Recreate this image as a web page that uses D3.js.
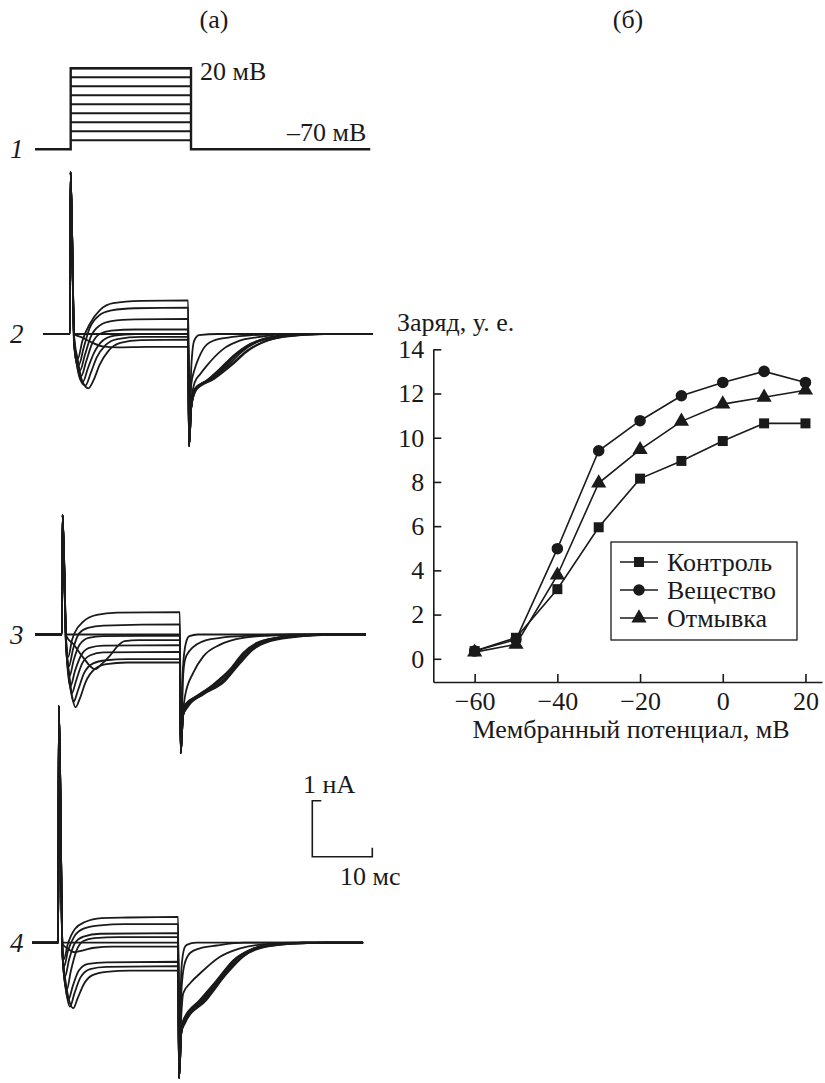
<!DOCTYPE html>
<html><head><meta charset="utf-8">
<script src="https://cdn.jsdelivr.net/npm/d3@7"></script>
<style>
body{margin:0;background:#fff}
svg{display:block}
svg text{font-family:'Liberation Serif','Tinos','DejaVu Serif','Noto Serif','Nimbus Roman','FreeSerif','Times',serif;fill:#1a1a1a}
</style>
</head><body>
<svg id="c" width="825" height="1083"></svg>
<script>
// ---------- DATA ----------
const voltages = [-60,-50,-40,-30,-20,-10,0,10,20];           // mV (steps)
const holdingV = -70;
const chargeControl = [0.35,0.95,3.15,5.95,8.15,8.95,9.85,10.65,10.65];
const chargeDrug    = [0.35,0.87,4.98,9.41,10.77,11.9,12.5,13.0,12.5];
const chargeWash    = [0.30,0.65,3.78,7.95,9.46,10.74,11.52,11.83,12.15];
const seriesNames   = ["Контроль","Вещество","Отмывка"];
const xTicks = [-60,-40,-20,0,20];
const yTicks = [0,2,4,6,8,10,12,14];

// pulse timing (ms)
const pulseOn = 5, pulseOff = 25;
const protocolSpan = [-0.93, 54.8];

// current traces (t ms, I nA) — onset capacitive spike peak, offset spike minimum
const spikePeaks = [2.89, 2.13, 4.23];
const tailMins   = [-2.0, -2.12, -2.42];
const traceStart = [0.44, 0.42, 0.62];
const traceEnd   = [56.2, 56.5, 55.8];

const p2On = [
 [[5.7,0],[24.98,0]],
 [[5.7,0],[7,-0.06],[8.5,-0.14],[10.5,-0.22],[13,-0.24],[18,-0.23],[24.98,-0.23]],
 [[5.7,-0.05],[6.3,-0.45],[7.0,-0.82],[8.1,-0.97],[9.0,-0.82],[10.0,-0.55],[11.5,-0.3],[13.5,-0.16],[17,-0.11],[24.98,-0.1]],
 [[5.7,-0.08],[6.2,-0.5],[6.9,-0.85],[7.6,-0.92],[8.5,-0.7],[9.5,-0.42],[11,-0.2],[13,-0.09],[17,-0.05],[24.98,-0.05]],
 [[5.7,-0.1],[6.1,-0.5],[6.7,-0.8],[7.2,-0.85],[8.0,-0.62],[9.0,-0.35],[10.5,-0.12],[12.5,-0.03],[16,0],[24.98,0]],
 [[5.7,-0.12],[6.1,-0.52],[6.9,-0.75],[7.7,-0.5],[8.7,-0.18],[10,0.0],[12,0.06],[16,0.08],[24.98,0.08]],
 [[5.7,-0.15],[6.1,-0.5],[6.7,-0.65],[7.5,-0.38],[8.5,-0.05],[10,0.15],[12,0.23],[16,0.26],[24.98,0.27]],
 [[5.7,-0.18],[6.0,-0.45],[6.5,-0.55],[7.3,-0.25],[8.3,0.1],[9.8,0.32],[12,0.42],[16,0.46],[24.98,0.47]],
 [[5.7,-0.2],[6.3,-0.45],[7.1,-0.12],[8.4,0.19],[10.1,0.43],[12.3,0.55],[17,0.59],[24.98,0.6]]
];
const p2Off = [
 [[25.5,-0.6],[26.0,-0.12],[26.8,-0.02],[30,0]],
 [[25.5,-0.9],[26.1,-0.62],[26.8,-0.42],[27.5,-0.27],[29.2,-0.12],[32,-0.06],[34.9,-0.03],[40,0]],
 [[25.5,-1.2],[26.1,-0.86],[27,-0.72],[28.1,-0.57],[30.9,-0.27],[33.7,-0.12],[36.5,-0.06],[42,0]],
 [[25.5,-1.3],[26.1,-0.98],[28.1,-0.83],[30.35,-0.62],[32.6,-0.39],[34.9,-0.21],[37.7,-0.09],[40.5,-0.03],[46,0]],
 [[25.5,-1.3],[26.1,-0.98],[28.3,-0.82],[30.6,-0.61],[32.9,-0.37],[35.2,-0.2],[38,-0.08],[40.8,-0.03],[46.5,0]],
 [[25.5,-1.3],[26.2,-0.98],[28.6,-0.81],[31,-0.6],[33.3,-0.35],[35.7,-0.18],[38.5,-0.08],[41.2,-0.03],[47,0]],
 [[25.5,-1.3],[26.3,-0.98],[28.9,-0.8],[31.5,-0.58],[33.9,-0.33],[36.5,-0.15],[39.5,-0.06],[42.5,-0.02],[48,0]],
 [[25.5,-1.3],[26.4,-0.98],[29.2,-0.8],[32,-0.57],[34.9,-0.3],[38.2,-0.12],[41.6,-0.04],[47.2,0]],
 [[25.5,-1.3],[26.4,-0.99],[29.4,-0.8],[32.3,-0.56],[35.2,-0.29],[38.6,-0.11],[42,-0.04],[48,0]]
];
const p3On = [
 [[5.7,0],[24.98,0]],
 [[5.7,-0.02],[7,-0.18],[8.5,-0.4],[10.6,-0.62],[11.8,-0.52],[13.1,-0.38],[14.5,-0.2],[15.6,-0.12],[18,-0.1],[24.98,-0.1]],
 [[5.7,-0.1],[6.2,-0.7],[6.8,-1.15],[7.3,-1.3],[8.0,-1.15],[9.0,-0.85],[10.5,-0.62],[12.5,-0.53],[16,-0.5],[24.98,-0.5]],
 [[5.7,-0.12],[6.2,-0.75],[6.95,-1.2],[7.7,-1.0],[8.7,-0.7],[10.2,-0.52],[12.5,-0.46],[16,-0.44],[24.98,-0.44]],
 [[5.7,-0.15],[6.1,-0.7],[6.65,-1.05],[7.4,-0.82],[8.4,-0.52],[9.8,-0.37],[12,-0.32],[24.98,-0.31]],
 [[5.7,-0.2],[6.4,-0.93],[7.2,-0.65],[8.2,-0.38],[9.6,-0.24],[12,-0.2],[24.98,-0.19]],
 [[5.7,-0.22],[6.25,-0.75],[7.0,-0.45],[8.0,-0.18],[9.5,-0.06],[12,-0.03],[24.98,-0.02]],
 [[5.7,-0.22],[6.15,-0.57],[6.9,-0.25],[7.9,0.02],[9.4,0.12],[12,0.16],[24.98,0.18]],
 [[5.7,-0.2],[6.05,-0.4],[6.7,-0.1],[7.2,0.04],[8.6,0.23],[10.9,0.35],[14.3,0.39],[24.98,0.40]]
];
const p3Off = [
 [[25.5,-0.6],[26.0,-0.15],[26.6,-0.03],[28,0]],
 [[25.5,-0.8],[25.85,-0.45],[26.7,-0.28],[27.8,-0.18],[29.5,-0.1],[31.8,-0.06],[37.4,-0.02],[44,0]],
 [[25.5,-1.4],[25.85,-1.1],[27.26,-0.68],[28.95,-0.39],[31.8,-0.18],[35.7,-0.06],[40.3,-0.02],[46,0]],
 [[25.5,-1.45],[25.85,-1.25],[27.8,-1.1],[30.65,-0.89],[33.5,-0.62],[35.7,-0.33],[38,-0.15],[41.4,-0.06],[45.9,-0.02],[50,0]],
 [[25.5,-1.45],[25.9,-1.25],[27.9,-1.1],[30.9,-0.88],[33.8,-0.6],[36,-0.32],[38.4,-0.14],[41.8,-0.05],[50,0]],
 [[25.5,-1.45],[26,-1.26],[28.2,-1.09],[31.3,-0.87],[34.2,-0.58],[36.4,-0.31],[38.8,-0.14],[42.2,-0.05],[50,0]],
 [[25.5,-1.45],[26.1,-1.27],[28.5,-1.08],[31.7,-0.87],[34.6,-0.56],[36.8,-0.3],[39.4,-0.13],[43,-0.04],[50,0]],
 [[25.5,-1.45],[26.3,-1.28],[28.8,-1.07],[32.1,-0.86],[34.9,-0.53],[37.1,-0.28],[39.9,-0.12],[45,-0.03],[51,0]],
 [[25.5,-1.45],[26.4,-1.28],[28.95,-1.07],[32.35,-0.86],[35.2,-0.51],[37.4,-0.27],[40.3,-0.12],[45.9,-0.03],[52,0]]
];
const p4On = [
 [[5.7,0],[24.98,0]],
 [[5.7,-0.02],[6.5,-0.1],[7.7,-0.17],[9,-0.14],[11,-0.09],[14,-0.07],[24.98,-0.07]],
 [[5.7,-0.15],[6.3,-0.75],[7.0,-1.1],[7.5,-1.17],[8.2,-1.0],[9.2,-0.75],[10.7,-0.58],[13,-0.52],[17,-0.5],[24.98,-0.5]],
 [[5.7,-0.18],[6.3,-0.85],[6.95,-1.14],[7.7,-0.9],[8.7,-0.62],[10.3,-0.47],[13,-0.43],[24.98,-0.42]],
 [[5.7,-0.2],[6.2,-0.8],[6.67,-1.02],[7.4,-0.78],[8.4,-0.5],[10,-0.38],[13,-0.35],[24.98,-0.34]],
 [[5.7,-0.22],[6.4,-0.85],[7.1,-0.5],[8.0,-0.15],[9.2,0.03],[11,0.08],[15,0.1],[24.98,0.1]],
 [[5.7,-0.22],[6.1,-0.61],[6.8,-0.3],[7.8,0.0],[9.2,0.11],[12,0.16],[24.98,0.17]],
 [[5.7,-0.2],[5.95,-0.43],[6.6,-0.15],[7.6,0.1],[9.2,0.25],[12,0.31],[16,0.33],[24.98,0.33]],
 [[5.7,-0.15],[5.9,-0.3],[6.6,-0.02],[7.8,0.25],[9.45,0.37],[12.2,0.44],[16.7,0.45],[24.98,0.46]]
];
const p4Off = [
 [[25.5,-0.5],[26.0,-0.1],[26.4,-0.04],[28,0]],
 [[25.5,-0.9],[26.0,-0.4],[27,-0.18],[28.6,-0.1],[31.4,-0.05],[36,0]],
 [[25.5,-1.3],[25.83,-0.9],[27,-0.72],[28.6,-0.55],[31.95,-0.25],[35.3,-0.1],[40,-0.02],[45,0]],
 [[25.5,-1.6],[25.83,-1.38],[28.6,-1.02],[31.4,-0.67],[34.2,-0.31],[36.95,-0.13],[39.7,-0.04],[45.3,-0.01],[50,0]],
 [[25.5,-1.6],[25.9,-1.39],[28.8,-1.02],[31.7,-0.65],[34.4,-0.3],[37.2,-0.12],[39.7,-0.05],[46,0]],
 [[25.5,-1.6],[25.95,-1.4],[29.0,-1.02],[32.0,-0.62],[34.7,-0.29],[37.5,-0.11],[40,-0.05],[46,0]],
 [[25.5,-1.6],[26.0,-1.41],[29.2,-1.02],[32.4,-0.6],[35.0,-0.27],[38.2,-0.09],[41,-0.03],[46,0]],
 [[25.5,-1.6],[26.05,-1.43],[29.5,-1.02],[32.8,-0.57],[35.5,-0.26],[39,-0.08],[45.3,-0.01],[50,0]],
 [[25.5,-1.6],[26.1,-1.44],[29.7,-1.02],[33.1,-0.55],[35.8,-0.25],[39.7,-0.07],[45.3,-0.01],[50,0]]
];

// ---------- DRAWING ----------
const svg = d3.select("#c");
const FONT = "'Liberation Serif','Tinos','DejaVu Serif','Noto Serif','Nimbus Roman','FreeSerif','Times',serif";
svg.attr("font-family",FONT);
const ink = "#1a1a1a";
const FS = 26;
const T = (x,y,size,str,opts={}) => {
  const t = svg.append("text").attr("x",x).attr("y",y).attr("font-size",size)
    .style("font-family",FONT).text(str);
  if (opts.anchor) t.attr("text-anchor",opts.anchor);
  if (opts.italic) t.style("font-style","italic");
  return t;
};

// panel titles
T(214,28,FS,"(а)",{anchor:"middle"});
T(628,28,FS,"(б)",{anchor:"middle"});

// ----- voltage protocol -----
const xP = d3.scaleLinear().domain([pulseOn,pulseOff]).range([70.7,191]);
const yP = d3.scaleLinear().domain([holdingV,20]).range([149.3,68.3]);
const gP = svg.append("g").attr("fill","none").attr("stroke",ink);
gP.append("path").attr("stroke-width",2.4)
  .attr("d", d3.line()([[xP(protocolSpan[0]),yP(holdingV)],[xP(pulseOn),yP(holdingV)],[xP(pulseOn),yP(d3.max(voltages))],
                        [xP(pulseOff),yP(d3.max(voltages))],[xP(pulseOff),yP(holdingV)],[xP(protocolSpan[1]),yP(holdingV)]]));
voltages.forEach(v=>{
  gP.append("line").attr("stroke-width",2)
    .attr("x1",xP(pulseOn)).attr("x2",xP(pulseOff)).attr("y1",yP(v)).attr("y2",yP(v));
});
T(200,80,FS,"20 мВ");
T(287,141,FS,"–70 мВ");
T(10,158,27,"1",{italic:true});

// ----- current traces -----
const panels = [
  {on:p2On, off:p2Off, base:334,   x0:70,   x1:188.3, label:"2", ly:343},
  {on:p3On, off:p3Off, base:634.5, x0:62,   x1:180,   label:"3", ly:644},
  {on:p4On, off:p4Off, base:942.7, x0:58.3, x1:178.3, label:"4", ly:952}
];
const nA = 56; // px per nA
const scales = [];
panels.forEach((p,pi)=>{
  const x = d3.scaleLinear().domain([pulseOn,pulseOff]).range([p.x0,p.x1]);
  const y = d3.scaleLinear().domain([0,1]).range([p.base,p.base-nA]);
  scales.push({x,y});
  const line = d3.line().x(d=>x(d[0])).y(d=>y(d[1])).curve(d3.curveMonotoneX);
  const g = svg.append("g").attr("fill","none").attr("stroke",ink).attr("stroke-width",1.8).attr("stroke-linejoin","round");
  p.on.forEach((onPts,i)=>{
    const pts = [[traceStart[pi],0],[pulseOn-0.02,0],[pulseOn+0.1,spikePeaks[pi]]]
      .concat(onPts)
      .concat([[pulseOff+0.12,tailMins[pi]]])
      .concat(p.off[i])
      .concat([[traceEnd[pi],0]]);
    g.append("path").attr("d",line(pts));
  });
  T(10,p.ly,27,p.label,{italic:true});
});

// scale bar (uses panel 4 scales)
{
  const {x,y} = scales[2];
  const cx = 312.3, cy = 856.7;
  const w = x(pulseOn+10)-x(pulseOn), h = y(0)-y(1);
  svg.append("path").attr("fill","none").attr("stroke",ink).attr("stroke-width",1.6)
    .attr("d", d3.line()([[cx+9,cy-h],[cx,cy-h],[cx,cy],[cx+w,cy],[cx+w,cy-9]]));
  T(303,793,FS,"1 нА");
  T(340,885,FS,"10 мс");
}

// ----- panel б: charge vs potential -----
const xs = d3.scaleLinear().domain([-70,24]).range([433.3,822]);
const ys = d3.scaleLinear().domain([-1.05,14]).range([682,349.3]);

const yAxis = svg.append("g").attr("transform",`translate(${xs(-70)},0)`)
  .call(d3.axisLeft(ys).tickValues(yTicks).tickSize(-8).tickSizeOuter(0).tickPadding(9));
const xAxis = svg.append("g").attr("transform",`translate(0,${ys(-1.05)})`)
  .call(d3.axisBottom(xs).tickValues(xTicks).tickSize(-8).tickSizeOuter(0).tickPadding(10));
[yAxis,xAxis].forEach(a=>{
  a.attr("font-family",FONT).attr("font-size",FS);
  a.selectAll("path,line").attr("stroke",ink).attr("stroke-width",1.6);
  a.selectAll("text").attr("fill",ink).style("font-family",FONT);
});
T(397,331,FS,"Заряд, у. е.");
T(631,738,FS,"Мембранный потенциал, мВ",{anchor:"middle"});

const series = [
  {name:seriesNames[0], vals:chargeControl, sym:d3.symbolSquare,   size:100},
  {name:seriesNames[1], vals:chargeDrug,    sym:d3.symbolCircle,   size:105},
  {name:seriesNames[2], vals:chargeWash,    sym:d3.symbolTriangle, size:100}
];
const lineQ = d3.line().x(d=>xs(d[0])).y(d=>ys(d[1]));
series.forEach(s=>{
  const pts = voltages.map((v,i)=>[v,s.vals[i]]);
  svg.append("path").attr("d",lineQ(pts)).attr("fill","none").attr("stroke",ink).attr("stroke-width",1.6);
  svg.append("g").selectAll("path").data(pts).join("path")
    .attr("d",d3.symbol(s.sym,s.size)())
    .attr("transform",d=>`translate(${xs(d[0])},${ys(d[1])})`)
    .attr("fill",ink);
});

// legend
const lg = svg.append("g");
lg.append("rect").attr("x",611).attr("y",542).attr("width",186).attr("height",98)
  .attr("fill","#fff").attr("stroke",ink).attr("stroke-width",1.3);
series.forEach((s,i)=>{
  const yy = 562 + i*28;
  lg.append("line").attr("x1",620).attr("x2",658).attr("y1",yy).attr("y2",yy).attr("stroke",ink).attr("stroke-width",1.6);
  lg.append("path").attr("d",d3.symbol(s.sym,s.size)()).attr("transform",`translate(639,${yy})`).attr("fill",ink);
  T(667,yy+9,FS,s.name);
});
</script>
</body></html>
